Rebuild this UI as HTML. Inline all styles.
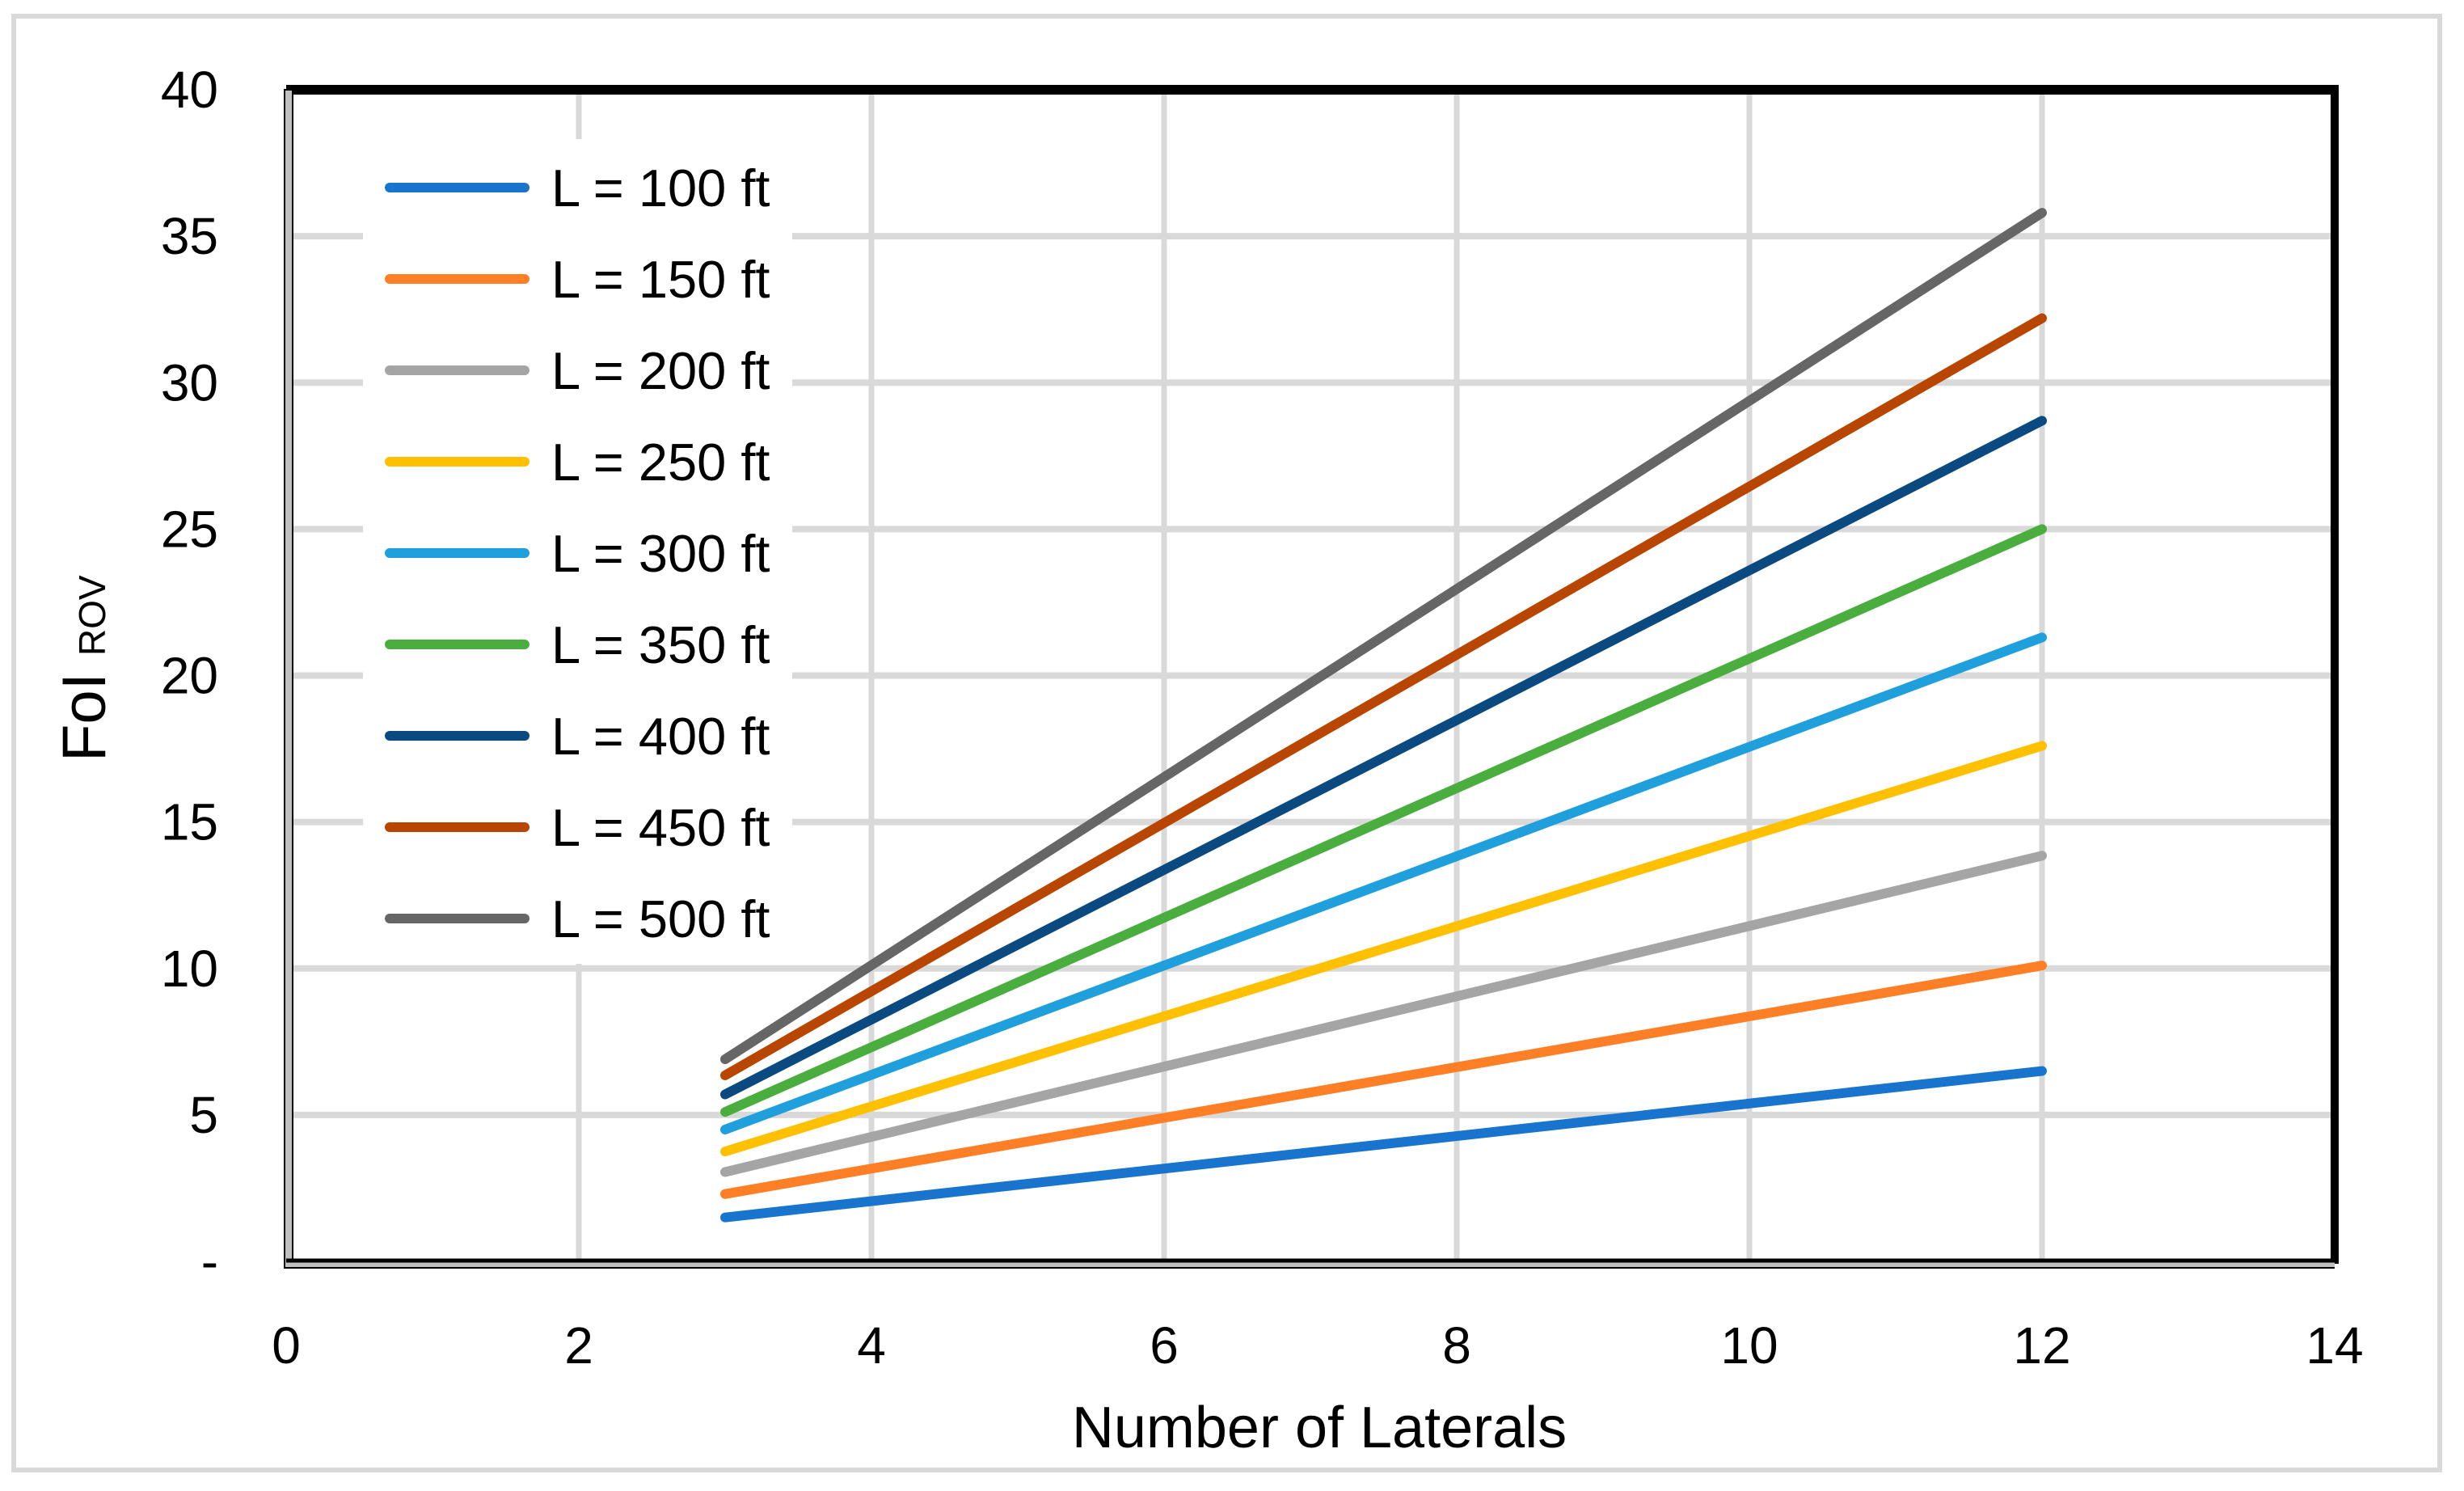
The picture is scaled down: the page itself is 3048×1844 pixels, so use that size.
<!DOCTYPE html>
<html><head><meta charset="utf-8"><style>
html,body{margin:0;padding:0;background:#fff}
svg{display:block;font-family:"Liberation Sans",sans-serif}
</style></head><body>
<svg id="chart" width="3048" height="1844" viewBox="0 0 3048 1844">
<rect x="17" y="20" width="3001" height="1798" fill="#fff" stroke="#d9d9d9" stroke-width="6"/>
<g id="grid"></g>
<rect x="449" y="172" width="531" height="1020" fill="#fff"/>
<g id="series"></g>
<line x1="354" y1="111" x2="2888" y2="111" stroke="#000" stroke-width="12"/>
<line x1="2888" y1="105" x2="2888" y2="1563" stroke="#000" stroke-width="10"/>
<rect x="352" y="111" width="10" height="1457" fill="#c0c0c0" stroke="#000" stroke-width="2"/>
<rect x="354" y="1557" width="2534" height="11" fill="#c0c0c0"/>
<line x1="354" y1="1559" x2="2888" y2="1559" stroke="#000" stroke-width="5"/>
<line x1="354" y1="1568" x2="2888" y2="1568" stroke="#000" stroke-width="2"/>
<g id="ticks" font-size="64" fill="#000"></g>
<g id="legend" font-size="65" fill="#000"></g>
<text x="1632" y="1790" font-size="72" text-anchor="middle">Number of Laterals</text>
<text transform="translate(130,942) rotate(-90)" font-size="76">FoI <tspan font-size="46">ROV</tspan></text>
</svg>
<script>
const xTicks = [0, 2, 4, 6, 8, 10, 12, 14];
const yTicks = [0, 5, 10, 15, 20, 25, 30, 35, 40];
const yTickLabels = ["-", "5", "10", "15", "20", "25", "30", "35", "40"];
const xValues = [3, 12];
const seriesNames = ["L = 100 ft", "L = 150 ft", "L = 200 ft", "L = 250 ft", "L = 300 ft", "L = 350 ft", "L = 400 ft", "L = 450 ft", "L = 500 ft"];
const seriesColors = ["#1874cd", "#ff7f27", "#a5a5a5", "#ffc000", "#1f9fdb", "#4aae3f", "#0b4a80", "#b84600", "#666666"];
const s100 = [1.5, 6.5];
const s150 = [2.3, 10.1];
const s200 = [3.05, 13.85];
const s250 = [3.75, 17.6];
const s300 = [4.5, 21.3];
const s350 = [5.1, 25.0];
const s400 = [5.7, 28.7];
const s450 = [6.35, 32.2];
const s500 = [6.9, 35.8];
const seriesValues = [s100, s150, s200, s250, s300, s350, s400, s450, s500];

const NS = "http://www.w3.org/2000/svg";
const X0 = 354, X1 = 2888, Y0 = 1560, Y1 = 111;
function xs(v){ return X0 + (v - 0) / 14 * (X1 - X0); }
function ys(v){ return Y0 - (v - 0) / 40 * (Y0 - Y1); }
function mk(tag, attrs, parent){ const e = document.createElementNS(NS, tag); for (const k in attrs) e.setAttribute(k, attrs[k]); parent.appendChild(e); return e; }

const grid = document.getElementById('grid');
xTicks.forEach(t => {
  if (t === 0 || t === 14) return;
  const l = mk('line', {x1: xs(t), x2: xs(t), y1: Y1, y2: Y0, stroke: '#d9d9d9', 'stroke-width': 7}, grid);
  
  
});
yTicks.forEach(t => {
  if (t === 0 || t === 40) return;
  const l = mk('line', {x1: X0, x2: X1, y1: ys(t), y2: ys(t), stroke: '#d9d9d9', 'stroke-width': 8}, grid);
  
  
});

const ticks = document.getElementById('ticks');
xTicks.forEach(t => {
  const tx = mk('text', {x: xs(t), y: 1686, 'text-anchor': 'middle'}, ticks);
  tx.textContent = String(t);
  
  
});
yTicks.forEach((t, i) => {
  const tx = mk('text', {x: 270, y: ys(t) + 22, 'text-anchor': 'end'}, ticks);
  tx.textContent = yTickLabels[i];
  
  
});

const sg = document.getElementById('series');
seriesValues.forEach((vals, i) => {
  const pts = vals.map((v, j) => xs(xValues[j]) + ',' + ys(v)).join(' ');
  const pl = mk('polyline', {points: pts, fill: 'none', stroke: seriesColors[i], 'stroke-width': 12, 'stroke-linecap': 'round', 'stroke-linejoin': 'round'}, sg);
  
  
});

const lg = document.getElementById('legend');
seriesNames.forEach((n, i) => {
  const y = 232 + i * 113;
  const g = mk('g', {}, lg);
  
  
  mk('line', {x1: 482, x2: 649, y1: y, y2: y, stroke: seriesColors[i], 'stroke-width': 12, 'stroke-linecap': 'round'}, g);
  const t = mk('text', {x: 682, y: y + 23}, g);
  t.textContent = n;
});
</script>
</body></html>
